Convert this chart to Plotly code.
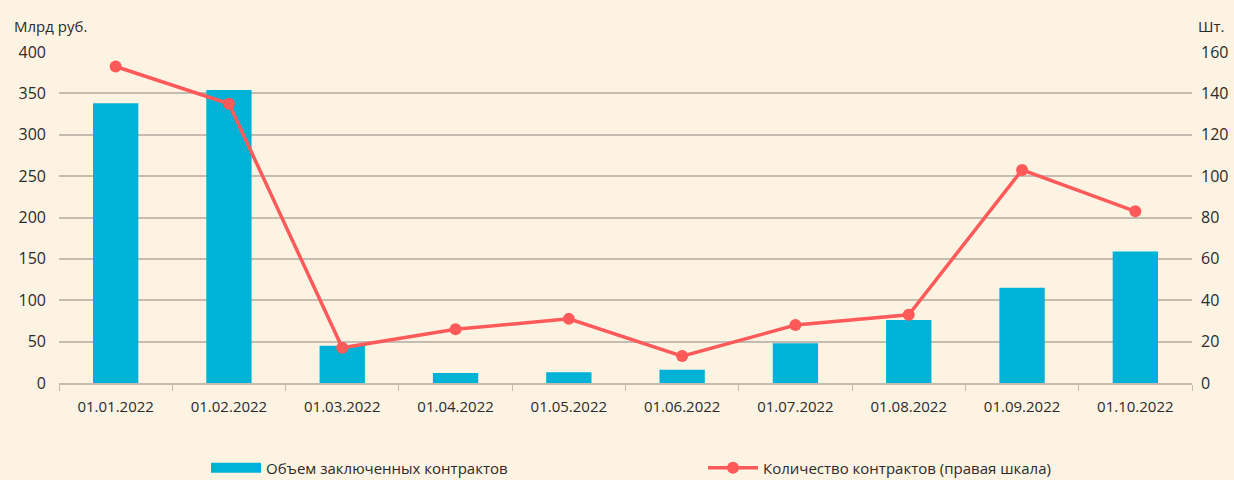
import plotly.graph_objects as go

dates = ["01.01.2022", "01.02.2022", "01.03.2022", "01.04.2022", "01.05.2022",
         "01.06.2022", "01.07.2022", "01.08.2022", "01.09.2022", "01.10.2022"]
volume_bln_rub = [338, 354, 45, 12, 13, 16, 48, 76, 115, 159]
contracts_count = [153, 135, 17, 26, 31, 13, 28, 33, 103, 83]

bg = "#FDF3E3"
bar_color = "#00B2D6"
line_color = "#FF5A5A"
grid_color = "#C4BCB1"
text_color = "#2B2B2B"
font_family = "Open Sans, Noto Sans, sans-serif"

W, H = 1234, 480
ML, MR, MT, MB = 59, 42, 52, 97

fig = go.Figure()
fig.add_trace(go.Bar(
    x=dates, y=volume_bln_rub, name="Объем заключенных контрактов",
    marker=dict(color=bar_color, line=dict(width=0)), width=0.4,
    yaxis="y", showlegend=False,
))
# legend proxy to show the wide rectangular bar swatch
fig.add_trace(go.Scatter(
    x=[None], y=[None], name="Объем заключенных контрактов", mode="lines",
    line=dict(color=bar_color, width=11), legend="legend", hoverinfo="skip",
))
fig.add_trace(go.Scatter(
    x=dates, y=contracts_count, name="Количество контрактов (правая шкала)",
    mode="lines+markers", line=dict(color=line_color, width=3.5),
    marker=dict(color=line_color, size=12), yaxis="y2", legend="legend2",
))

legend_common = dict(
    orientation="h", xref="container", yref="container", xanchor="left",
    yanchor="middle", font=dict(size=15, color=text_color),
    bgcolor="rgba(0,0,0,0)", itemwidth=50,
)

fig.update_layout(
    width=W, height=H,
    paper_bgcolor=bg, plot_bgcolor=bg,
    margin=dict(l=ML, r=MR, t=MT, b=MB, autoexpand=False),
    font=dict(family=font_family, size=15, color=text_color),
    xaxis=dict(
        type="category", range=[-0.5, len(dates) - 0.5], tickson="boundaries",
        ticks="outside", ticklen=6,
        tickcolor=grid_color, showline=True, linecolor=grid_color, linewidth=1.5,
        showgrid=False, tickfont=dict(size=15, color=text_color), automargin=False,
        ticklabelstandoff=9,
    ),
    yaxis=dict(
        range=[0, 400], dtick=50, showgrid=True, gridcolor=grid_color, gridwidth=1.5,
        zeroline=False, ticks="", tickfont=dict(size=16, color=text_color),
        ticklabelstandoff=12, automargin=False,
    ),
    yaxis2=dict(
        range=[0, 160], dtick=20, overlaying="y", side="right", showgrid=False,
        zeroline=False, ticks="", tickfont=dict(size=16, color=text_color),
        ticklabelstandoff=8, automargin=False,
    ),
    legend=dict(legend_common, x=206 / W, y=1 - 468 / H),
    legend2=dict(legend_common, x=703 / W, y=1 - 468 / H),
    showlegend=True,
    annotations=[
        dict(text="Млрд руб.", xref="paper", yref="paper", x=-(ML - 12) / (W - ML - MR),
             y=1.0 + 26 / (H - MT - MB), xanchor="left", yanchor="middle", showarrow=False,
             font=dict(size=15, color=text_color)),
        dict(text="Шт.", xref="paper", yref="paper", x=1 + (MR - 8) / (W - ML - MR),
             y=1.0 + 26 / (H - MT - MB), xanchor="right", yanchor="middle", showarrow=False,
             font=dict(size=15, color=text_color)),
    ],
)

fig.write_html("out.html", config={"displayModeBar": False},
               post_script="document.body.style.margin='0';")
